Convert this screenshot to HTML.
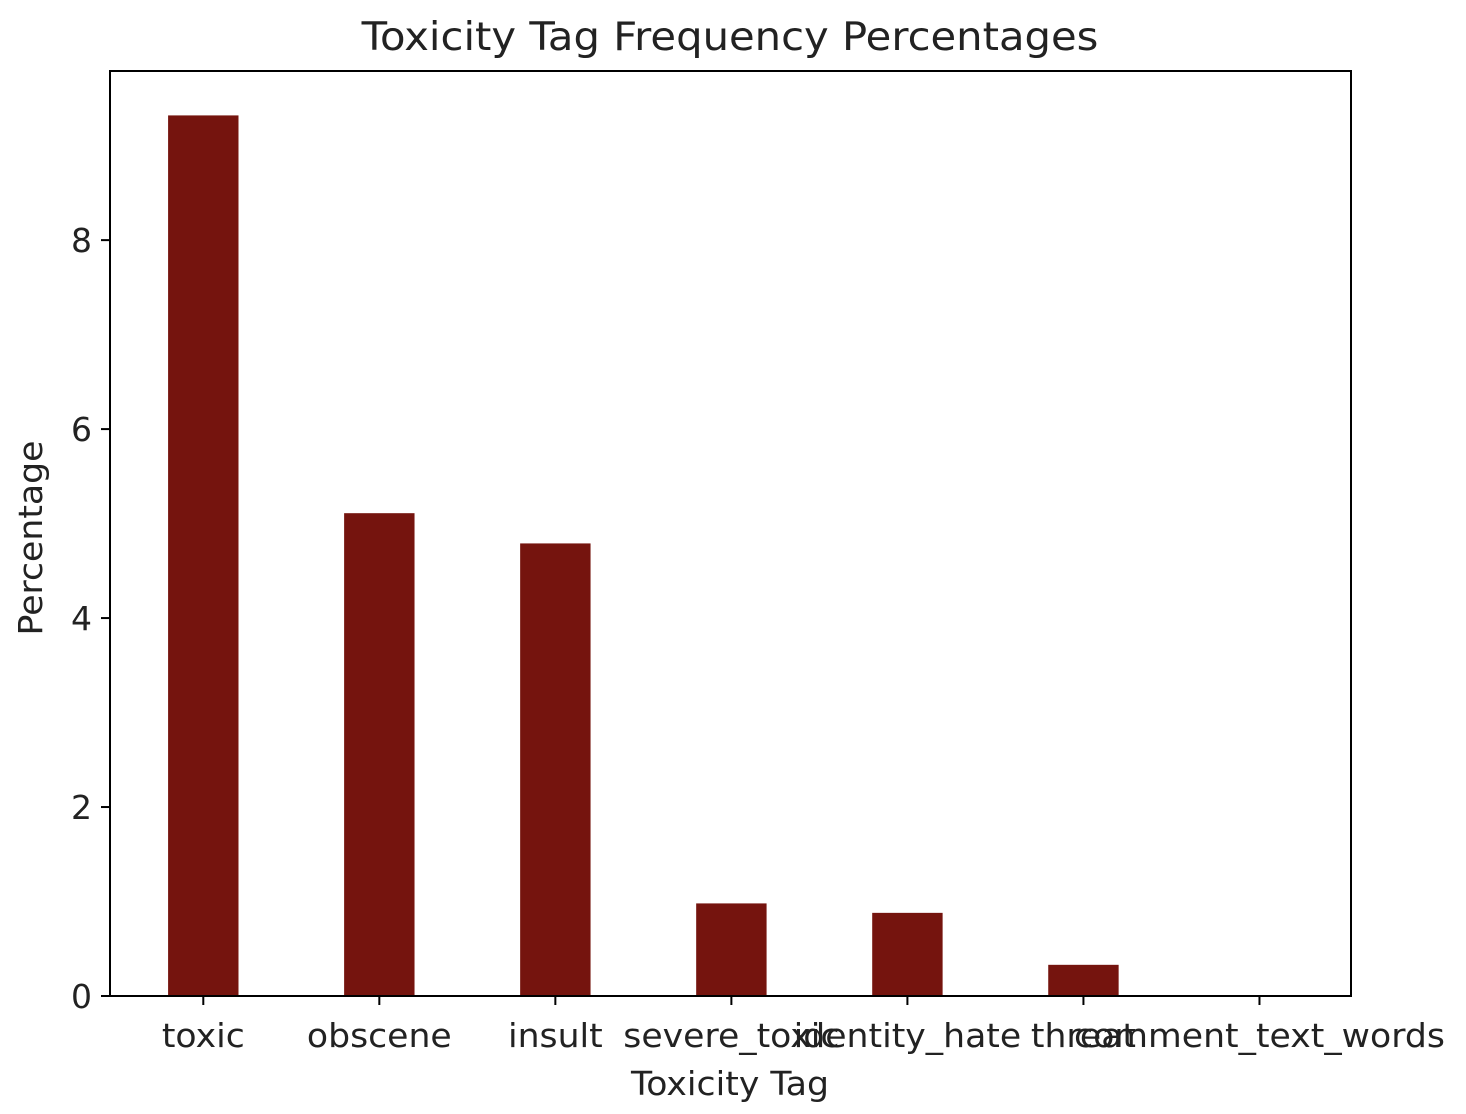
<!DOCTYPE html>
<html><head><meta charset="utf-8"><style>
html,body{margin:0;padding:0;background:#fff;}
svg{display:block;font-family:"DejaVu Sans","Liberation Sans",sans-serif;}
</style></head><body>
<svg id="chart" width="1466" height="1114" viewBox="0 0 1466 1114">
<text transform="translate(730,50) scale(1.07,1)" font-size="39" text-anchor="middle" fill="#222">Toxicity Tag Frequency Percentages</text>
<g id="bars"></g>
<rect x="110" y="71" width="1241" height="925" fill="none" stroke="#000" stroke-width="2"/>
<g id="yticks"></g>
<g id="xticks"></g>
<text transform="translate(730,1095) scale(1.05,1)" font-size="33" text-anchor="middle" fill="#222">Toxicity Tag</text>
<text transform="translate(42,538) rotate(-90) scale(1.05,1)" font-size="33" text-anchor="middle" fill="#222">Percentage</text>
</svg>
<script>
const categories = ["toxic","obscene","insult","severe_toxic","identity_hate","threat","comment_text_words"];
const values = [9.32, 5.11, 4.79, 0.98, 0.88, 0.33, 0.0];
const yTicks = [0, 2, 4, 6, 8];
const NS = "http://www.w3.org/2000/svg";
const plotL = 110, plotR = 1351, plotT = 71, plotB = 996;
const xMin = -0.53, xMax = 6.52, yMin = 0, yMax = 9.79;
function xs(i){ return plotL + (i - xMin) / (xMax - xMin) * (plotR - plotL); }
function ys(v){ return plotB - (v - yMin) / (yMax - yMin) * (plotB - plotT); }
function mk(tag, attrs, parent){ const e = document.createElementNS(NS, tag); for (const k in attrs) e.setAttribute(k, attrs[k]); parent.appendChild(e); return e; }
const bars = document.getElementById("bars"), yt = document.getElementById("yticks"), xt = document.getElementById("xticks");
const bw = 0.4;
categories.forEach((c, i) => {
  const x0 = xs(i - bw/2), x1 = xs(i + bw/2);
  const r = mk("rect", {x: x0, y: ys(values[i]), width: x1 - x0, height: ys(0) - ys(values[i]), fill: "#75140e"}, bars);
  
  
  const t = mk("line", {x1: xs(i), x2: xs(i), y1: plotB, y2: plotB + 9, stroke: "#000", "stroke-width": 2}, xt);
  
  
  const l = mk("text", {transform: "translate(" + xs(i) + ",1047) scale(1.05,1)", "font-size": 33, "text-anchor": "middle", fill: "#222"}, xt);
  l.textContent = c;
  
  
});
yTicks.forEach(v => {
  const t = mk("line", {x1: plotL - 9, x2: plotL, y1: ys(v), y2: ys(v), stroke: "#000", "stroke-width": 2}, yt);
  
  
  const l = mk("text", {x: plotL - 18, y: ys(v) + 12, "font-size": 33, "text-anchor": "end", fill: "#222"}, yt);
  l.textContent = v;
  
  
});
</script>
</body></html>
